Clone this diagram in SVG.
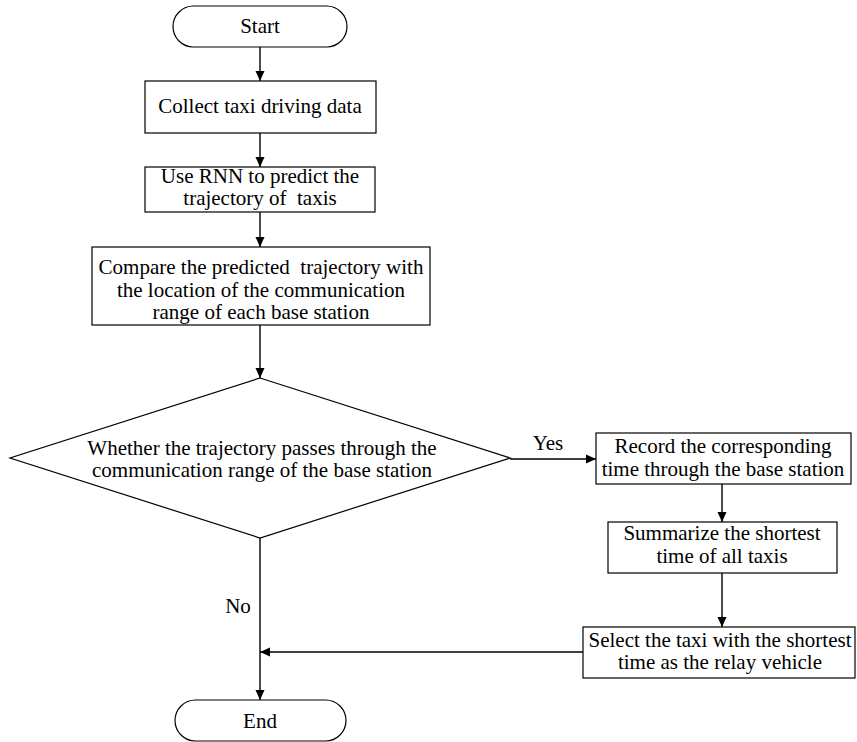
<svg xmlns="http://www.w3.org/2000/svg" width="857" height="742" viewBox="0 0 857 742">
<style>
.box{fill:#fff;stroke:#000;stroke-width:1.2}
.ln{fill:none;stroke:#000;stroke-width:1.4}
text{font-family:"Liberation Serif","Times New Roman",serif;font-size:21px;fill:#000;text-anchor:middle}
</style>
<defs>
<marker id="ah" markerWidth="10" markerHeight="10" viewBox="0 0 10 10" refX="10" refY="5" orient="auto" markerUnits="userSpaceOnUse">
<path d="M0,0.5 L10,5 L0,9.5 Z" fill="#000"/>
</marker>
</defs>
<rect width="857" height="742" fill="#fff"/>
<g id="connectors">
<line class="ln" x1="260" y1="47" x2="260" y2="81" marker-end="url(#ah)"/>
<line class="ln" x1="260" y1="133" x2="260" y2="167" marker-end="url(#ah)"/>
<line class="ln" x1="260" y1="212" x2="260" y2="247" marker-end="url(#ah)"/>
<line class="ln" x1="260" y1="325" x2="260" y2="378" marker-end="url(#ah)"/>
<line class="ln" x1="260" y1="538" x2="260" y2="700" marker-end="url(#ah)"/>
<line class="ln" x1="510" y1="459" x2="596" y2="459" marker-end="url(#ah)"/>
<line class="ln" x1="722" y1="484" x2="722" y2="522" marker-end="url(#ah)"/>
<line class="ln" x1="722" y1="573" x2="722" y2="627" marker-end="url(#ah)"/>
<line class="ln" x1="583" y1="652" x2="260" y2="652" marker-end="url(#ah)"/>
<text x="548" y="450">Yes</text>
<text x="238" y="613">No</text>
</g>
<g id="start">
<rect class="box" x="173" y="6" width="174" height="41" rx="20.5"/>
<text x="260" y="33">Start</text>
</g>
<g id="collect">
<rect class="box" x="145" y="81" width="231" height="52"/>
<text x="260" y="113">Collect taxi driving data</text>
</g>
<g id="rnn">
<rect class="box" x="145" y="167" width="230" height="45"/>
<text x="260" y="183">Use RNN to predict the</text>
<text x="260" y="205" xml:space="preserve">trajectory of  taxis</text>
</g>
<g id="compare">
<rect class="box" x="92" y="247" width="338" height="78"/>
<text x="261" y="274" xml:space="preserve">Compare the predicted  trajectory with</text>
<text x="261" y="297">the location of the communication</text>
<text x="261" y="319">range of each base station</text>
</g>
<g id="decision">
<polygon class="box" points="260,378 510,458 260,538 10,458"/>
<text x="262" y="455">Whether the trajectory passes through the</text>
<text x="262" y="477">communication range of the base station</text>
</g>
<g id="record">
<rect class="box" x="596" y="433" width="255" height="51"/>
<text x="723" y="453">Record the corresponding</text>
<text x="723" y="476">time through the base station</text>
</g>
<g id="summarize">
<rect class="box" x="608" y="522" width="229" height="51"/>
<text x="722" y="540">Summarize the shortest</text>
<text x="722" y="563">time of all taxis</text>
</g>
<g id="select">
<rect class="box" x="583" y="627" width="272" height="51"/>
<text x="720" y="647">Select the taxi with the shortest</text>
<text x="720" y="669">time as the relay vehicle</text>
</g>
<g id="end">
<rect class="box" x="175" y="700" width="171" height="41" rx="20.5"/>
<text x="260" y="728">End</text>
</g>
</svg>
